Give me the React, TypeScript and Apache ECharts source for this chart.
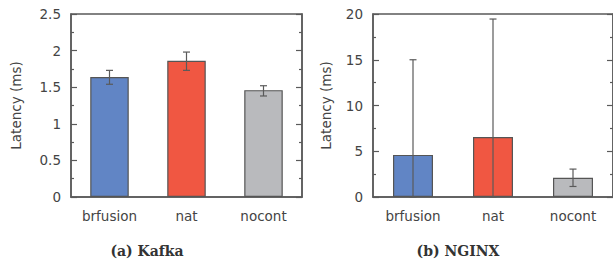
import React, { useEffect, useRef } from "react";
import * as echarts from "echarts";

const categories = ["brfusion", "nat", "nocont"];
const barColors = ["#6185c5", "#f05742", "#b9babd"];

const kafkaMean = [1.64, 1.86, 1.46];
const kafkaLow = [1.54, 1.73, 1.38];
const kafkaHigh = [1.73, 1.98, 1.52];

const nginxMean = [4.6, 6.55, 2.1];
const nginxLow = [0, 0, 1.15];
const nginxHigh = [15, 19.45, 3.05];

const kafkaTicks = { min: 0, max: 2.5, interval: 0.5 };
const nginxTicks = { min: 0, max: 20, interval: 5 };

const captions = ["(a) Kafka", "(b) NGINX"];
const axisName = "Latency (ms)";

const AXIS = "#5a5a5a";
const TEXT = "#444";
const FONT = "'DejaVu Sans'";

function errRender(params: any, api: any) {
  const x = api.value(0);
  const lo = api.coord([x, api.value(1)]);
  const hi = api.coord([x, api.value(2)]);
  const w = 3.5;
  const style = { stroke: AXIS, lineWidth: 1.2 };
  return {
    type: "group",
    children: [
      { type: "line", shape: { x1: hi[0], y1: hi[1], x2: lo[0], y2: lo[1] }, style },
      { type: "line", shape: { x1: hi[0] - w, y1: hi[1], x2: hi[0] + w, y2: hi[1] }, style },
      { type: "line", shape: { x1: lo[0] - w, y1: lo[1], x2: lo[0] + w, y2: lo[1] }, style },
    ],
  };
}

export default function App() {
  const ref = useRef<HTMLDivElement>(null);
  useEffect(() => {
    if (!ref.current) return;
    const chart = echarts.init(ref.current, null, { renderer: "svg" });
    const grids = [
      { left: 71, top: 14, width: 231, height: 183 },
      { left: 373, top: 14, width: 240, height: 183 },
    ];
    const ticks = [kafkaTicks, nginxTicks];
    const means = [kafkaMean, nginxMean];
    const lows = [kafkaLow, nginxLow];
    const highs = [kafkaHigh, nginxHigh];
    const nameGaps = [48, 40];

    const xAxis: any[] = [];
    const yAxis: any[] = [];
    const series: any[] = [];
    grids.forEach((g, i) => {
      xAxis.push({
        type: "category",
        gridIndex: i,
        data: categories,
        axisLine: { show: true, lineStyle: { color: AXIS, width: 1.5 } },
        axisTick: { show: false },
        axisLabel: { color: TEXT, fontSize: 13.5, fontFamily: FONT, margin: 12 },
      });
      const base = {
        type: "value",
        gridIndex: i,
        min: ticks[i].min,
        max: ticks[i].max,
        interval: ticks[i].interval,
        splitLine: { show: false },
        axisLine: { show: true, lineStyle: { color: AXIS, width: 1.5 } },
        axisTick: { show: true, inside: true, length: 6, lineStyle: { color: AXIS, width: 1.2 } },
        minorTick: { show: true, splitNumber: 2, length: 3, lineStyle: { color: AXIS, width: 1.2 } },
      };
      yAxis.push({
        ...base,
        position: "left",
        name: axisName,
        nameLocation: "middle",
        nameGap: nameGaps[i],
        nameRotate: 90,
        nameTextStyle: { color: TEXT, fontSize: 13.5, fontFamily: FONT },
        axisLabel: { color: TEXT, fontSize: 13.5, fontFamily: FONT, margin: 10 },
      });
      yAxis.push({
        ...base,
        position: "right",
        axisLabel: { show: false },
      });
      series.push({
        type: "bar",
        xAxisIndex: i,
        yAxisIndex: i * 2,
        barWidth: "50%",
        data: means[i].map((v, j) => ({
          value: v,
          itemStyle: { color: barColors[j], borderColor: "#555", borderWidth: 1.2 },
        })),
      });
      series.push({
        type: "custom",
        xAxisIndex: i,
        yAxisIndex: i * 2,
        renderItem: errRender,
        z: 10,
        data: categories.map((_, j) => [j, lows[i][j], highs[i][j]]),
      });
    });

    chart.setOption({
      animation: false,
      grid: grids.map((g) => ({
        ...g,
        show: true,
        borderColor: AXIS,
        borderWidth: 1.5,
        backgroundColor: "transparent",
      })),
      xAxis,
      yAxis,
      series,
      graphic: captions.map((c, i) => ({
        type: "text",
        x: [147, 458][i],
        y: 251,
        style: {
          text: c,
          textAlign: "center",
          textVerticalAlign: "middle",
          font: "bold 14px 'DejaVu Serif'",
          fill: "#333",
        },
      })),
    });
    return () => chart.dispose();
  }, []);
  return (
    <div
      ref={ref}
      style={{ position: "fixed", left: 0, top: 0, width: 613, height: 260, background: "#fff" }}
    />
  );
}
